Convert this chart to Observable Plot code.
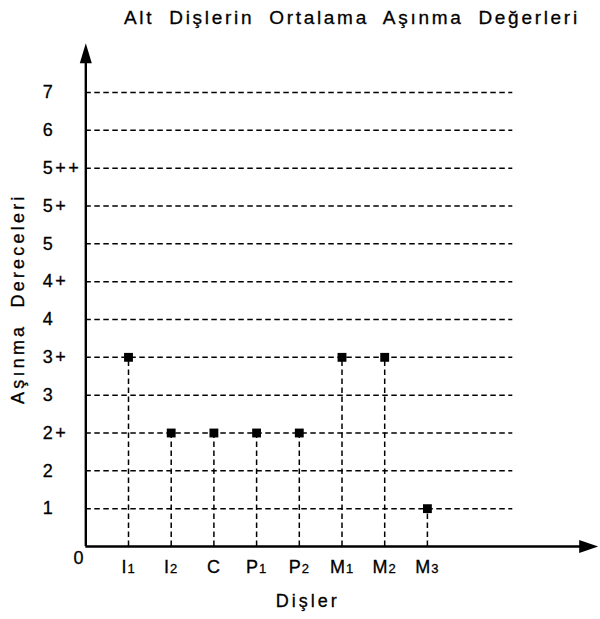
<!DOCTYPE html>
<html><head><meta charset="utf-8">
<script src="https://cdn.jsdelivr.net/npm/d3@7"></script>
<script src="https://cdn.jsdelivr.net/npm/@observablehq/plot@0.6"></script>
<style>
body{margin:0;background:#fff;font-family:"Liberation Sans",Arial,sans-serif;}
#title{height:30px;line-height:36px;padding-left:124px;font-size:19px;word-spacing:7px;letter-spacing:2.7px;color:#000;white-space:nowrap;overflow:visible;-webkit-text-stroke:0.3px #000;}
#chart svg{display:block;}
</style></head><body>
<div id="title">Alt Dişlerin Ortalama Aşınma Değerleri</div>
<div id="chart"></div>
<script>
// Data
const teeth = ["I1","I2","C","P1","P2","M1","M2","M3"];
const levels = ["0","1","2","2+","3","3+","4","4+","5","5+","5++","6","7"];
const wear = ["3+","2+","2+","2+","2+","3+","3+","1"];
const xTitle = "Dişler";
const yTitle = "Aşınma Dereceleri";

const data = teeth.map((t, i) => ({tooth: t, pos: i + 1, level: wear[i], li: levels.indexOf(wear[i])}));
const grid = levels.slice(1).map(l => ({level: l, li: levels.indexOf(l)}));
const yTicks = levels.slice(1).map(l => ({label: l, li: levels.indexOf(l)}));

const dash = "5.5,3.5";
const triUp = {draw(ctx) { ctx.moveTo(0, 0); ctx.lineTo(-6, 20); ctx.lineTo(6, 20); ctx.closePath(); }};
const triRight = {draw(ctx) { ctx.moveTo(0, 0); ctx.lineTo(-19, -6.5); ctx.lineTo(-19, 6.5); ctx.closePath(); }};
const xEnd = 12, gridEnd = 10, yTop = 13.3;

const chart = Plot.plot({
  width: 600,
  height: 589,
  margin: 0,
  x: {domain: [0, 12], range: [85.3, 597.7], axis: null},
  y: {domain: [0, 12], range: [516, 62], axis: null},
  style: {fontFamily: "'Liberation Sans', Arial, sans-serif", color: "#000", background: "#fff"},
  marks: [
    Plot.ruleY(grid, {y: "li", x1: 0, x2: gridEnd, stroke: "#000", strokeWidth: 1.5, strokeDasharray: dash}),
    Plot.ruleX(data, {x: "pos", y1: 0, y2: "li", stroke: "#000", strokeWidth: 1.5, strokeDasharray: dash}),
    Plot.ruleX([0], {y1: 0, y2: yTop - 0.3, stroke: "#000", strokeWidth: 2.4}),
    Plot.ruleY([0], {x1: 0, x2: xEnd - 0.3, stroke: "#000", strokeWidth: 2.4}),
    Plot.dot([{x: 0, y: yTop}], {x: "x", y: "y", symbol: triUp, fill: "#000", stroke: "none", r: 5}),
    Plot.dot([{x: xEnd, y: 0}], {x: "x", y: "y", symbol: triRight, fill: "#000", stroke: "none", r: 5}),
    Plot.dot(data, {x: "pos", y: "li", symbol: "square", r: 5, fill: "#000", stroke: "none"}),
    Plot.text(yTicks, {x: 0, y: "li", text: "label", textAnchor: "start", dx: -43, fontSize: 18, fill: "#000", className: "ylab"}),
    Plot.text(["0"], {x: 0, y: 0, text: d => d, dx: -6, dy: 12, fontSize: 18, fill: "#000", className: "ylab"}),
    Plot.text(data, {x: "pos", y: 0, text: "tooth", dy: 21, fontSize: 18, fill: "#000", className: "xlab"}),
    Plot.text([xTitle], {x: 5.2, y: 0, text: d => d, dy: 55, fontSize: 18, fill: "#000", className: "xtitle"}),
    Plot.text([yTitle], {x: 0, y: 6.55, text: d => d, dx: -68, rotate: -90, fontSize: 18, fill: "#000", className: "ytitle"})
  ]
});
document.getElementById("chart").appendChild(chart);

// subscript digits in tooth labels
d3.select(chart).selectAll(".xlab text").each(function() {
  const t = d3.select(this);
  const s = t.text();
  const m = s.match(/^([A-Z]+)(\d*)$/);
  if (!m || !m[2]) return;
  t.text(null);
  t.append("tspan").text(m[1]);
  t.append("tspan").attr("font-size", 13).text(m[2]);
});
const heavy = sel => sel.attr("stroke", "#000").attr("stroke-width", 0.3);
heavy(d3.select(chart).selectAll(".xlab text, .ylab text, .xtitle text, .ytitle text"));
d3.select(chart).selectAll(".ylab text").style("letter-spacing", "2.5px");
d3.select(chart).selectAll(".xlab text").style("letter-spacing", "1px");
d3.select(chart).selectAll(".xtitle text").style("letter-spacing", "3px");
d3.select(chart).selectAll(".ytitle text").style("letter-spacing", "3.2px").style("word-spacing", "8px");
</script>
</body></html>
